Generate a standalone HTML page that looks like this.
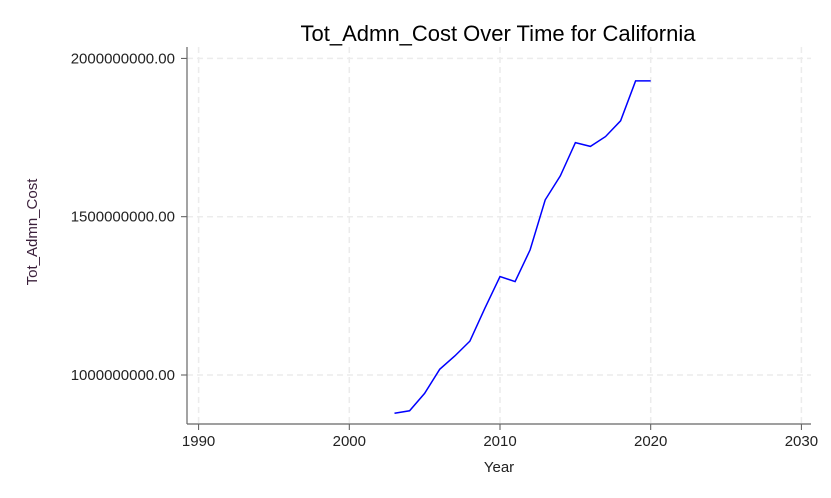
<!DOCTYPE html>
<html><head><meta charset="utf-8"><style>
body{margin:0;background:#fff;}
svg{display:block;font-family:"Liberation Sans",Arial,sans-serif;}
</style></head><body>
<svg id="chart" width="831" height="498">
<rect width="831" height="498" fill="#fff"/>
<text x="498" y="41" text-anchor="middle" font-size="22" fill="#000">Tot_Admn_Cost Over Time for California</text>
<g id="grid"></g>
<g id="axes"></g>
<path id="line" fill="none" stroke="#0000ff" stroke-width="1.5"/>
<text x="0" y="0" transform="translate(37,232) rotate(-90)" text-anchor="middle" font-size="15" fill="#3a1f3a">Tot_Admn_Cost</text>
<text x="499" y="472" text-anchor="middle" font-size="15" fill="#222">Year</text>
</svg>
<script>
const years=[2003,2004,2005,2006,2007,2008,2009,2010,2011,2012,2013,2014,2015,2016,2017,2018,2019,2020];
const costs=[879e6,887e6,942e6,1018e6,1060e6,1107e6,1211e6,1311e6,1295e6,1395e6,1553e6,1629e6,1734e6,1722e6,1753e6,1803e6,1929e6,1929e6];
const xTicks=[1990,2000,2010,2020,2030];
const yTicks=[1000000000,1500000000,2000000000];
const yTickLabels=["1000000000.00","1500000000.00","2000000000.00"];

const NS="http://www.w3.org/2000/svg";
const X=v=>198.6+(v-1990)*15.07;
const Y=v=>375-(v-1e9)/1e9*316.6;
const L=187,B=424,T=47,R=811;
const grid=document.getElementById('grid'),axes=document.getElementById('axes');
function mk(tag,attrs,parent){const e=document.createElementNS(NS,tag);for(const k in attrs)e.setAttribute(k,attrs[k]);parent.appendChild(e);return e;}
xTicks.forEach(t=>{
  const g=mk('line',{x1:X(t),x2:X(t),y1:T,y2:B,stroke:'#ececec','stroke-dasharray':'6,4','stroke-width':1.5},grid);
  
  
  const tk=mk('line',{x1:X(t),x2:X(t),y1:B,y2:B+6,stroke:'#555','stroke-width':1},axes);
  
  
  const tx=mk('text',{x:X(t),y:B+22,'text-anchor':'middle','font-size':15,fill:'#222'},axes);
  tx.textContent=t;
  
  
});
yTicks.forEach((t,i)=>{
  const g=mk('line',{x1:L,x2:R,y1:Y(t),y2:Y(t),stroke:'#ececec','stroke-dasharray':'6,4','stroke-width':1.5},grid);
  
  
  const tk=mk('line',{x1:L-6,x2:L,y1:Y(t),y2:Y(t),stroke:'#555','stroke-width':1},axes);
  
  
  const tx=mk('text',{x:L-12,y:Y(t)+5,'text-anchor':'end','font-size':15,fill:'#222'},axes);
  tx.textContent=yTickLabels[i];
  
  
});
const ya=mk('line',{x1:L,x2:L,y1:T,y2:B,stroke:'#666','stroke-width':1.2},axes);


const xa=mk('line',{x1:L,x2:R,y1:B,y2:B,stroke:'#666','stroke-width':1.2},axes);


document.getElementById('line').setAttribute('d',years.map((y,i)=>(i?'L':'M')+X(y).toFixed(1)+','+Y(costs[i]).toFixed(1)).join(''));
</script>
</body></html>
